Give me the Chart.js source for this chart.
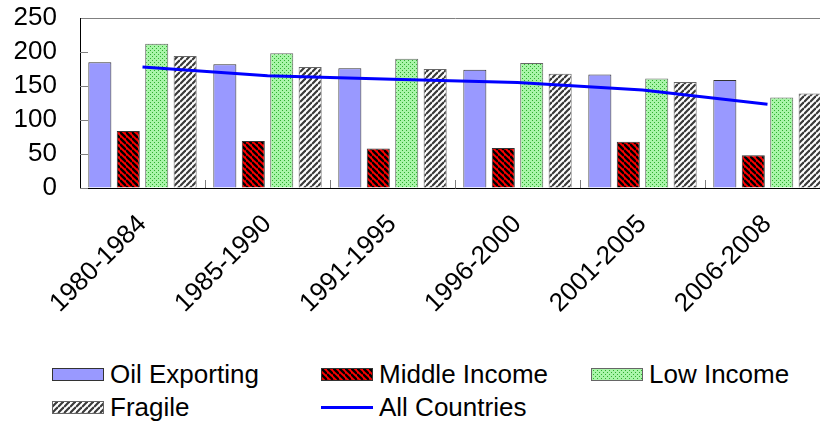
<!DOCTYPE html>
<html>
<head>
<meta charset="utf-8">
<script src="https://cdn.jsdelivr.net/npm/chart.js@4.4.1/dist/chart.umd.min.js"></script>
<style>
  html, body { margin: 0; padding: 0; background: #fff; }
  body { width: 820px; height: 421px; overflow: hidden; position: relative; font-family: "Liberation Sans", Arial, sans-serif; }
  #wrap { position: absolute; left: 0; top: 0; width: 832px; height: 340px; }
  .item { position: absolute; height: 30px; display: flex; align-items: center; font-size: 26px; line-height: 30px; color: #000; white-space: nowrap; }
  .item canvas { margin-right: 6px; display: block; }
</style>
</head>
<body>
<div id="wrap"><canvas id="chartBar" width="832" height="340"></canvas></div>
<div id="legend"></div>
<script>
const categories = ["1980-1984", "1985-1990", "1991-1995", "1996-2000", "2001-2005", "2006-2008"];
const oilExporting = [185, 182, 176, 174, 167, 159];
const middleIncome = [84, 69, 58, 59, 68, 48];
const lowIncome = [212, 198, 190, 184, 161, 133];
const fragile = [194, 178, 175, 168, 156, 139];
const allCountries = [178, 165, 160, 155, 144, 123];
const yTicks = [0, 50, 100, 150, 200, 250];

// small repeating fills for the hatched / dotted bars
function stripes(bg, fg, size, width, dir) {
  const c = document.createElement("canvas");
  c.width = size; c.height = size;
  const g = c.getContext("2d");
  g.fillStyle = bg;
  g.fillRect(0, 0, size, size);
  g.strokeStyle = fg;
  g.lineWidth = width;
  for (let k = -1; k <= 1; k++) {
    g.beginPath();
    if (dir === "down") {
      g.moveTo(0, k * size); g.lineTo(size, size + k * size);
    } else {
      g.moveTo(0, size + k * size); g.lineTo(size, k * size);
    }
    g.stroke();
  }
  return g.createPattern(c, "repeat");
}

function dots(bg, fg) {
  const c = document.createElement("canvas");
  c.width = 4; c.height = 4;
  const g = c.getContext("2d");
  g.fillStyle = bg;
  g.fillRect(0, 0, 4, 4);
  g.fillStyle = fg;
  g.fillRect(0, 0, 1, 1);
  g.fillRect(2, 2, 1, 1);
  return g.createPattern(c, "repeat");
}

const redHatch = stripes("#ff0000", "#000000", 6, 2.4, "down");
const greyHatch = stripes("#ffffff", "#3a3a3a", 6, 2.2, "up");
const greenDots = dots("#a8f5a8", "#2fae2f");

Chart.defaults.font.family = '"Liberation Sans", Arial, sans-serif';
Chart.defaults.font.size = 26;
Chart.defaults.color = "#000";

// inward tick marks on the value axis and between the categories
const innerTicks = {
  id: "innerTicks",
  beforeDatasetsDraw(chart) {
    const { ctx, scales: { x, y } } = chart;
    ctx.save();
    ctx.strokeStyle = "#808080";
    ctx.lineWidth = 1;
    ctx.beginPath();
    y.ticks.forEach(t => {
      if (t.value === 250) return;
      const py = Math.round(y.getPixelForValue(t.value)) + 0.5;
      ctx.moveTo(x.left, py);
      ctx.lineTo(x.left + 8, py);
    });
    for (let i = 1; i < categories.length; i++) {
      const px = Math.round((x.getPixelForTick(i - 1) + x.getPixelForTick(i)) / 2) + 0.5;
      ctx.moveTo(px, y.bottom);
      ctx.lineTo(px, y.bottom - 8);
    }
    ctx.stroke();
    ctx.restore();
  }
};

const ctx = document.getElementById("chartBar").getContext("2d");

const chart = new Chart(ctx, {
  type: "bar",
  data: {
    labels: categories,
    datasets: [
      { label: "Oil Exporting", data: oilExporting, backgroundColor: "#9999ff", borderColor: "#333333", borderWidth: 1, order: 1 },
      { label: "Middle Income", data: middleIncome, backgroundColor: redHatch, borderColor: "#333333", borderWidth: 1, order: 1 },
      { label: "Low Income", data: lowIncome, backgroundColor: greenDots, borderColor: "#666666", borderWidth: 1, order: 1 },
      { label: "Fragile", data: fragile, backgroundColor: greyHatch, borderColor: "#666666", borderWidth: 1, order: 1 },
      {
        type: "line", label: "All Countries", data: allCountries,
        borderColor: "#0000ff", backgroundColor: "#0000ff", borderWidth: 3,
        pointRadius: 0, tension: 0, fill: false, order: 0
      }
    ]
  },
  options: {
    responsive: false,
    animation: false,
    devicePixelRatio: 1,
    layout: { padding: { top: 18, right: 2, left: 0, bottom: 0 } },
    datasets: {
      bar: { categoryPercentage: 0.91, barPercentage: 0.81 }
    },
    plugins: {
      legend: { display: false },
      tooltip: { enabled: false }
    },
    scales: {
      x: {
        offset: true,
        grid: { display: false, drawTicks: false, offset: true },
        border: { display: true, color: "#000", width: 1 },
        ticks: { maxRotation: 45, minRotation: 45, autoSkip: false, padding: 21 },
        afterFit(scale) { scale.height = 152; }
      },
      y: {
        min: 0,
        max: 250,
        afterBuildTicks(scale) { scale.ticks = yTicks.map(v => ({ value: v })); },
        grid: {
          drawTicks: false,
          color: c => (c.tick && c.tick.value === 250 ? "#808080" : "rgba(0,0,0,0)")
        },
        border: { display: true, color: "#000", width: 1 },
        ticks: { padding: 23, autoSkip: false },
        afterFit(scale) {
          scale.width = 80;
          scale.paddingTop = 0;
          scale.paddingBottom = 0;
        }
      }
    }
  },
  plugins: [innerTicks]
});

// legend laid out in fixed columns under the plot
const legendSlots = [
  { left: 52, top: 359 }, { left: 321, top: 359 }, { left: 591, top: 359 },
  { left: 52, top: 392 }, { left: 321, top: 392 }
];
const legend = document.getElementById("legend");
chart.data.datasets.forEach((ds, i) => {
  const slot = legendSlots[i];
  const item = document.createElement("div");
  item.className = "item";
  item.style.left = slot.left + "px";
  item.style.top = slot.top + "px";
  const sw = document.createElement("canvas");
  sw.width = 52; sw.height = 13;
  const g = sw.getContext("2d");
  if (ds.type === "line") {
    g.fillStyle = ds.borderColor;
    g.fillRect(0, 5, 52, 3);
  } else {
    g.fillStyle = ds.backgroundColor;
    g.fillRect(0, 0, 52, 13);
    g.strokeStyle = ds.borderColor;
    g.lineWidth = 1;
    g.strokeRect(0.5, 0.5, 51, 12);
  }
  const txt = document.createElement("span");
  txt.textContent = ds.label;
  item.appendChild(sw);
  item.appendChild(txt);
  legend.appendChild(item);
});
</script>
</body>
</html>
